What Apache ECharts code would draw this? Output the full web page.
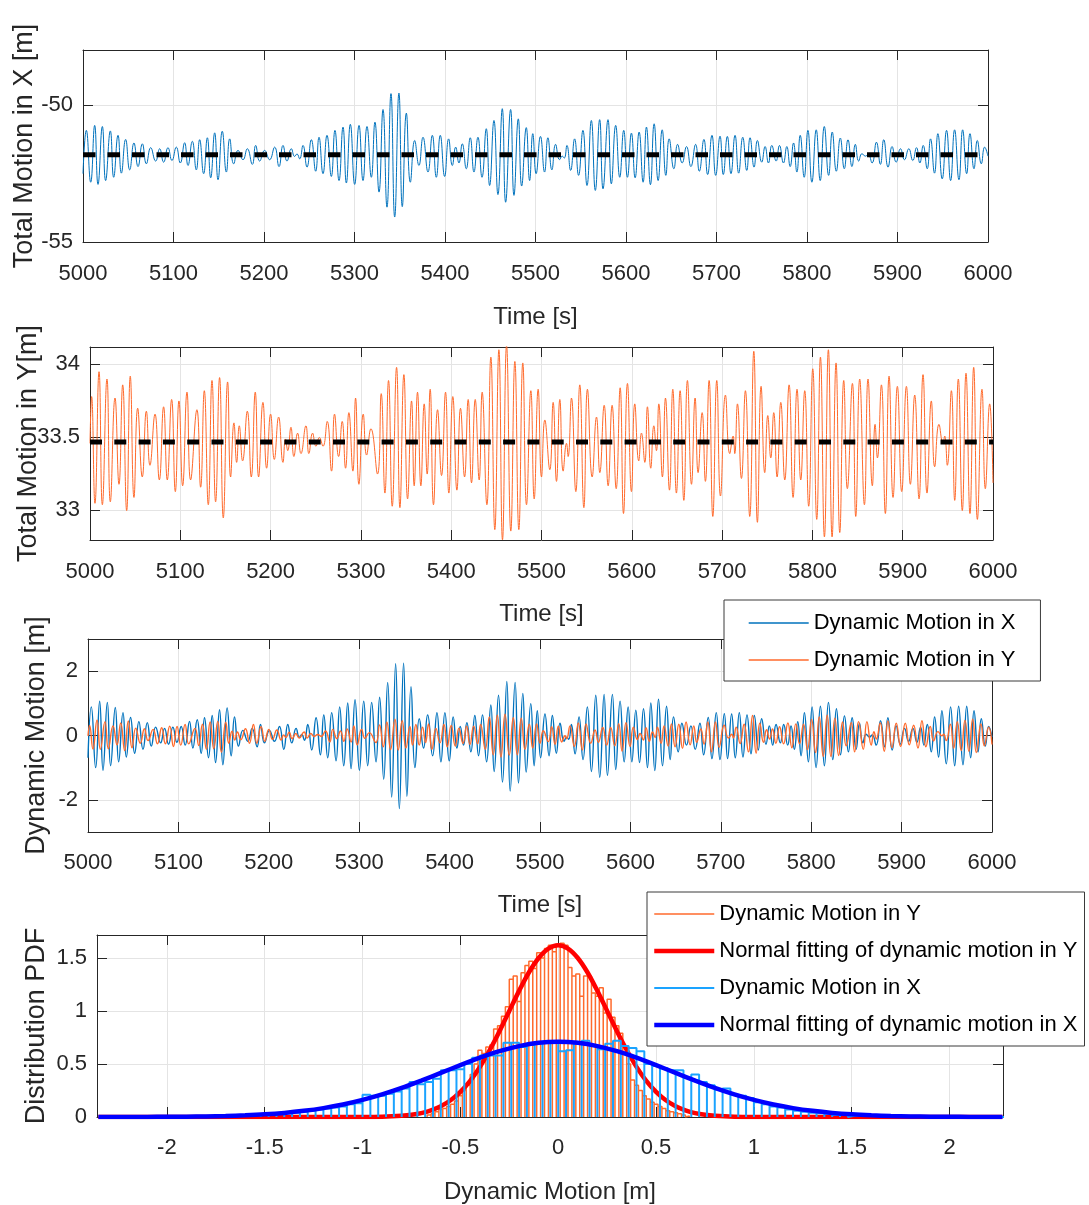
<!DOCTYPE html>
<html><head><meta charset="utf-8">
<script src="https://cdn.jsdelivr.net/npm/echarts@6/dist/echarts.min.js"></script>
<style>html,body{margin:0;padding:0;background:#fff}#c{width:1089px;height:1205px}</style>
</head><body><div id="c"></div>
<script>
// ---------------- DATA ----------------
const xMean = -51.82;   // mean of total motion in X [m]
const yMean = 33.466;   // mean of total motion in Y [m]

// dynamic motion in X: [time s, value m] (extrema)
const xMotion = [[5000.0,-0.69],[5003.7,0.89],[5008.5,-1.00],[5012.9,1.07],[5016.6,-1.08],[5021.4,1.03],[5025.0,-0.94],[5030.2,0.87],[5033.9,-0.82],[5038.7,0.71],[5042.4,-0.67],[5047.1,0.56],[5051.6,-0.55],[5056.3,0.43],[5060.8,-0.43],[5065.6,0.40],[5070.0,-0.33],[5074.8,0.26],[5080.3,-0.23],[5084.7,0.22],[5089.1,-0.27],[5093.9,0.26],[5098.3,-0.21],[5103.1,0.28],[5107.5,-0.30],[5112.3,0.44],[5116.0,-0.39],[5120.8,0.49],[5125.2,-0.55],[5128.9,0.55],[5133.3,-0.69],[5137.4,0.62],[5141.1,-0.84],[5145.5,0.80],[5149.2,-0.91],[5153.9,0.86],[5158.4,-0.63],[5162.1,0.58],[5166.5,-0.33],[5171.3,0.16],[5176.8,-0.18],[5181.6,0.22],[5187.1,-0.35],[5190.8,0.34],[5195.2,-0.23],[5200.7,0.16],[5206.2,-0.18],[5211.8,0.28],[5216.6,-0.43],[5221.0,0.34],[5225.4,-0.23],[5230.2,0.22],[5233.8,-0.06],[5236.5,0.03],[5239.4,-0.15],[5243.1,0.34],[5247.5,-0.45],[5252.3,0.55],[5257.1,-0.60],[5260.8,0.64],[5265.2,-0.69],[5269.6,0.71],[5274.4,-0.79],[5278.4,0.89],[5282.9,-0.94],[5287.3,1.01],[5291.0,-1.03],[5295.4,1.11],[5300.2,-1.08],[5305.0,1.07],[5309.4,-0.94],[5313.8,1.03],[5318.6,-0.82],[5322.6,1.19],[5327.1,-1.36],[5331.5,1.65],[5335.9,-1.91],[5340.3,2.23],[5344.4,-2.27],[5349.1,2.25],[5352.8,-1.89],[5357.3,1.52],[5361.7,-1.00],[5366.5,0.52],[5371.2,-0.39],[5375.7,0.64],[5381.2,-0.63],[5386.0,0.71],[5390.4,-0.82],[5394.8,0.71],[5399.6,-0.79],[5404.0,0.58],[5408.1,-0.39],[5411.8,0.28],[5415.4,-0.30],[5419.1,0.40],[5423.5,-0.51],[5427.9,0.62],[5432.0,-0.63],[5436.4,0.64],[5440.9,-0.82],[5445.6,0.95],[5449.3,-1.12],[5454.1,1.25],[5458.5,-1.45],[5463.3,1.68],[5467.0,-1.73],[5472.5,1.65],[5476.2,-1.48],[5481.0,1.31],[5484.7,-1.14],[5489.8,0.99],[5493.5,-0.94],[5497.0,0.77],[5500.7,-0.69],[5505.5,0.67],[5510.0,-0.63],[5513.7,0.62],[5518.1,-0.55],[5522.2,0.38],[5526.6,-0.18],[5529.5,-0.05],[5531.8,-0.12],[5534.7,0.34],[5538.8,-0.57],[5543.2,0.58],[5547.6,-0.75],[5552.4,0.89],[5556.9,-1.12],[5561.7,1.25],[5566.1,-1.30],[5570.9,1.28],[5574.6,-1.24],[5580.1,1.28],[5583.8,-1.06],[5588.6,1.07],[5593.1,-0.82],[5597.5,0.89],[5601.6,-0.82],[5606.0,0.79],[5610.1,-0.84],[5614.5,0.83],[5618.9,-1.00],[5622.6,1.01],[5627.0,-1.09],[5631.1,1.13],[5635.5,-0.94],[5640.0,0.91],[5644.0,-0.75],[5647.7,0.58],[5652.9,-0.51],[5657.0,0.38],[5662.1,-0.30],[5666.9,0.30],[5671.7,-0.43],[5676.9,0.38],[5681.0,-0.60],[5686.1,0.56],[5690.2,-0.72],[5695.0,0.71],[5699.1,-0.75],[5703.9,0.68],[5707.5,-0.72],[5712.0,0.67],[5716.0,-0.69],[5720.5,0.71],[5724.5,-0.67],[5729.0,0.64],[5733.4,-0.57],[5737.1,0.62],[5741.5,-0.45],[5745.2,0.52],[5750.0,-0.27],[5753.7,0.30],[5757.4,-0.30],[5761.1,0.34],[5765.9,-0.23],[5769.6,0.34],[5774.0,-0.30],[5777.7,0.30],[5781.4,-0.43],[5785.1,0.43],[5788.8,-0.63],[5792.5,0.71],[5796.9,-0.82],[5801.0,0.89],[5805.4,-1.00],[5810.2,0.91],[5814.6,-0.94],[5819.1,1.03],[5823.9,-0.75],[5827.9,0.83],[5832.4,-0.60],[5836.8,0.61],[5841.2,-0.51],[5845.3,0.55],[5849.7,-0.43],[5853.4,0.38],[5857.1,-0.23],[5860.8,0.04],[5864.5,-0.05],[5867.5,0.02],[5871.9,-0.30],[5876.7,0.46],[5881.1,-0.35],[5884.8,0.55],[5889.6,-0.45],[5894.0,0.30],[5898.5,-0.27],[5903.3,0.22],[5907.7,-0.18],[5912.5,0.22],[5916.9,-0.21],[5921.0,0.26],[5924.7,-0.30],[5928.4,0.34],[5932.8,-0.51],[5936.5,0.58],[5940.9,-0.67],[5944.6,0.77],[5949.4,-0.88],[5954.2,0.89],[5958.7,-0.94],[5963.1,0.91],[5967.9,-0.91],[5972.0,0.91],[5976.4,-0.69],[5980.1,0.77],[5984.5,-0.51],[5988.2,0.52],[5992.6,-0.33],[5996.3,0.28],[6000.0,-0.05]];

// dynamic motion in Y: [time s, value m]
const yMotion = [[5000.0,-0.01],[5001.8,0.31],[5005.5,-0.42],[5010.0,0.48],[5013.7,-0.43],[5018.8,0.43],[5022.5,-0.41],[5027.7,0.30],[5032.1,-0.29],[5036.2,0.39],[5040.6,-0.47],[5044.6,0.45],[5048.7,-0.38],[5052.8,0.23],[5057.9,-0.24],[5062.4,0.21],[5066.4,-0.16],[5072.0,0.19],[5076.8,-0.26],[5081.5,0.24],[5085.6,-0.26],[5090.4,0.29],[5094.5,-0.34],[5098.5,0.28],[5102.6,-0.30],[5107.4,0.34],[5111.4,-0.26],[5118.4,0.22],[5122.5,-0.31],[5126.6,0.35],[5131.0,-0.43],[5135.1,0.42],[5139.1,-0.41],[5143.5,0.44],[5147.6,-0.52],[5152.4,0.41],[5155.7,-0.24],[5159.4,0.13],[5162.4,-0.14],[5165.3,0.11],[5169.0,-0.13],[5174.2,0.21],[5178.6,-0.24],[5183.0,0.34],[5186.7,-0.24],[5191.5,0.27],[5195.6,-0.18],[5200.0,0.19],[5204.1,-0.12],[5208.9,0.17],[5213.7,-0.14],[5216.5,0.02],[5219.0,-0.06],[5222.5,0.10],[5225.8,-0.10],[5229.9,0.06],[5233.6,-0.08],[5239.1,0.11],[5242.4,-0.08],[5246.5,0.06],[5250.2,-0.03],[5254.0,0.03],[5258.0,-0.03],[5262.7,0.14],[5267.5,-0.20],[5270.8,0.19],[5275.3,-0.10],[5279.3,0.14],[5283.0,-0.18],[5286.7,0.20],[5291.1,-0.20],[5294.1,0.30],[5297.8,-0.29],[5302.6,0.19],[5306.3,-0.09],[5311.1,0.09],[5318.4,-0.22],[5322.5,0.33],[5326.6,-0.35],[5330.6,0.42],[5334.7,-0.44],[5339.5,0.51],[5343.2,-0.45],[5347.6,0.46],[5351.7,-0.39],[5356.1,0.28],[5359.0,-0.30],[5362.7,0.34],[5366.4,-0.30],[5370.1,0.26],[5373.4,-0.22],[5376.7,0.36],[5380.4,-0.43],[5384.9,0.22],[5389.3,-0.23],[5393.7,0.34],[5397.4,-0.35],[5401.8,0.31],[5406.3,-0.33],[5410.3,0.23],[5414.8,-0.24],[5418.8,0.29],[5422.5,-0.28],[5426.6,0.29],[5431.0,-0.26],[5434.3,0.34],[5439.5,-0.43],[5443.9,0.58],[5448.3,-0.60],[5452.8,0.63],[5456.8,-0.67],[5461.3,0.66],[5466.0,-0.61],[5470.5,0.55],[5474.9,-0.60],[5479.3,0.54],[5483.4,-0.43],[5488.2,0.35],[5491.9,-0.39],[5496.3,0.36],[5500.0,-0.24],[5503.7,0.15],[5509.2,-0.19],[5512.9,0.27],[5516.6,-0.27],[5520.3,0.29],[5524.0,-0.20],[5527.7,-0.01],[5529.5,-0.10],[5533.2,0.30],[5538.0,-0.34],[5542.4,0.39],[5546.9,-0.45],[5550.9,0.36],[5556.1,-0.24],[5560.9,0.17],[5564.6,-0.21],[5569.4,0.25],[5573.8,-0.30],[5578.2,0.25],[5582.7,-0.32],[5587.1,0.37],[5590.8,-0.49],[5595.2,0.40],[5599.6,-0.34],[5603.3,0.26],[5607.7,-0.13],[5610.7,0.06],[5614.4,-0.14],[5617.3,0.24],[5621.0,-0.18],[5624.4,0.11],[5627.3,-0.06],[5629.9,0.26],[5633.9,-0.24],[5637.3,0.30],[5641.7,-0.33],[5645.4,0.36],[5649.4,-0.35],[5653.5,0.35],[5657.6,-0.40],[5661.6,0.42],[5666.1,-0.29],[5670.1,0.30],[5673.4,-0.21],[5677.9,0.20],[5681.5,-0.27],[5685.6,0.42],[5689.7,-0.51],[5694.1,0.42],[5698.2,-0.37],[5703.7,0.32],[5708.5,-0.08],[5712.2,0.04],[5714.0,-0.08],[5717.0,0.26],[5721.4,-0.25],[5725.8,0.35],[5730.6,-0.51],[5735.1,0.62],[5739.1,-0.55],[5743.2,0.38],[5747.2,-0.21],[5750.6,0.18],[5753.9,-0.11],[5757.2,0.20],[5760.9,-0.24],[5765.0,0.27],[5769.4,-0.26],[5774.2,0.39],[5778.6,-0.38],[5783.0,0.36],[5787.1,-0.26],[5791.5,0.35],[5795.9,-0.44],[5800.4,0.50],[5804.8,-0.53],[5808.9,0.58],[5813.3,-0.65],[5817.7,0.63],[5821.8,-0.65],[5826.2,0.54],[5830.3,-0.62],[5834.7,0.42],[5838.7,-0.32],[5844.3,0.40],[5848.0,-0.51],[5852.4,0.43],[5857.6,-0.43],[5861.6,0.43],[5866.4,-0.30],[5869.4,0.12],[5872.0,-0.11],[5876.4,0.39],[5880.8,-0.49],[5884.9,0.45],[5889.3,-0.38],[5894.1,0.38],[5898.9,-0.34],[5904.1,0.38],[5908.5,-0.29],[5913.3,0.32],[5918.1,-0.39],[5922.5,0.46],[5926.9,-0.35],[5931.7,0.28],[5935.4,-0.17],[5940.2,0.12],[5944.6,-0.01],[5946.5,0.04],[5949.4,-0.16],[5953.9,0.35],[5957.6,-0.40],[5961.6,0.43],[5966.0,-0.47],[5970.1,0.47],[5974.5,-0.49],[5978.6,0.51],[5982.7,-0.53],[5987.8,0.36],[5991.5,-0.32],[5996.3,0.26],[6000.0,-0.28]];

// tick labels
const timeTicks = [5000,5100,5200,5300,5400,5500,5600,5700,5800,5900,6000];
const totalXTicks = [-55,-50];
const totalYTicks = [33,33.5,34];
const dynTicks = [-2,0,2];
const pdfXTicks = [-2,-1.5,-1,-0.5,0,0.5,1,1.5,2];
const pdfYTicks = [0,0.5,1,1.5];

// histogram of dynamic motion in Y (pdf), bins of 0.02 m from -0.67
const histYStart = -0.67, histYWidth = 0.02;
const histY = [0.02,0.03,0.05,0.07,0.08,0.10,0.12,0.15,0.20,0.25,0.30,0.40,0.50,0.63,0.60,0.66,0.68,0.83,0.86,0.95,1.04,1.30,1.33,1.09,1.36,1.43,1.47,1.40,1.55,1.50,1.59,1.62,1.56,1.63,1.64,1.62,1.41,1.33,1.35,1.14,1.33,1.33,1.17,1.14,1.22,0.98,1.11,0.94,0.86,0.79,0.60,0.50,0.35,0.30,0.25,0.20,0.17,0.14,0.12,0.10,0.08,0.06,0.05,0.04,0.03,0.02,0.01];

// histogram of dynamic motion in X (pdf), bins of 0.04 m from -2.28
const histXStart = -2.28, histXWidth = 0.04;
const histX = [0,0,0,0,0.005,0,0,0,0.005,0.01,0.01,0.005,0.005,0.01,0.01,0.01,0.015,0.02,0.02,0.02,0.025,0.03,0.035,0.04,0.05,0.06,0.07,0.08,0.09,0.10,0.12,0.13,0.21,0.20,0.20,0.22,0.24,0.27,0.33,0.31,0.33,0.36,0.44,0.44,0.45,0.50,0.56,0.58,0.58,0.58,0.70,0.70,0.66,0.68,0.70,0.71,0.70,0.62,0.63,0.70,0.72,0.68,0.64,0.69,0.72,0.67,0.65,0.62,0.50,0.48,0.46,0.44,0.44,0.37,0.40,0.33,0.30,0.26,0.27,0.21,0.20,0.18,0.14,0.12,0.10,0.09,0.07,0.06,0.05,0.04,0.035,0.03,0.02,0.02,0.015,0.01,0.01,0.015,0.02,0.005,0.005,0,0,0,0,0,0,0,0,0,0,0,0,0];

// normal fits [x, pdf]
const fitX = [[-2.35,0.0002],[-2.3,0.0003],[-2.2,0.0005],[-2.1,0.001],[-2.0,0.0019],[-1.9,0.0033],[-1.8,0.0058],[-1.7,0.0097],[-1.6,0.0159],[-1.5,0.025],[-1.4,0.0386],[-1.3,0.058],[-1.2,0.084],[-1.1,0.118],[-1.0,0.161],[-0.9,0.213],[-0.8,0.274],[-0.7,0.343],[-0.6,0.416],[-0.5,0.49],[-0.4,0.56],[-0.3,0.621],[-0.2,0.669],[-0.1,0.7],[0,0.71],[0.1,0.7],[0.2,0.669],[0.3,0.621],[0.4,0.56],[0.5,0.49],[0.6,0.416],[0.7,0.343],[0.8,0.274],[0.9,0.213],[1.0,0.161],[1.1,0.118],[1.2,0.084],[1.3,0.058],[1.4,0.0386],[1.5,0.025],[1.6,0.0159],[1.7,0.0097],[1.8,0.0058],[1.9,0.0033],[2.0,0.0019],[2.1,0.001],[2.2,0.0005],[2.27,0.0003]];
const fitY = [[-2.35,0],[-1.2,0],[-1.0,0.0007],[-0.9,0.0032],[-0.8,0.012],[-0.75,0.021],[-0.7,0.037],[-0.65,0.063],[-0.6,0.102],[-0.55,0.158],[-0.5,0.237],[-0.45,0.341],[-0.4,0.473],[-0.35,0.632],[-0.3,0.81],[-0.25,1.001],[-0.2,1.19],[-0.15,1.363],[-0.1,1.5],[-0.05,1.589],[0,1.62],[0.05,1.589],[0.1,1.5],[0.15,1.363],[0.2,1.19],[0.25,1.001],[0.3,0.81],[0.35,0.632],[0.4,0.473],[0.45,0.341],[0.5,0.237],[0.55,0.158],[0.6,0.102],[0.65,0.063],[0.7,0.037],[0.75,0.021],[0.8,0.012],[0.9,0.0032],[1.0,0.0007],[1.2,0],[2.27,0]];

const legendText = {
  dynX: 'Dynamic Motion in X', dynY: 'Dynamic Motion in Y',
  histY: 'Dynamic Motion in Y', fitY: 'Normal fitting of dynamic motion in Y',
  histX: 'Dynamic Motion in X', fitX: 'Normal fitting of dynamic motion in X'
};

// ---------------- STYLE / BUILD ----------------
const FONT = 'Liberation Sans, Arial, Helvetica, sans-serif';
const AX = '#262626', GRIDC = '#e4e4e4';
const BLUE = '#0072BD', ORANGE = '#FF6A2C', LBLUE = '#1AA3FF';

function outline(start, width, h) {
  const pts = [];
  h.forEach((v, i) => {
    const a = +(start + i * width).toFixed(4), b = +(start + (i + 1) * width).toFixed(4);
    pts.push([a, 0], [a, v], [b, v], [b, 0]);
  });
  return pts;
}
const fmt = v => String(+v.toFixed(2));

function xPair(gi, min, max, ticks, name, nameGap, margin) {
  return [{
    type: 'value', gridIndex: gi, min, max, position: 'bottom',
    axisLine: { show: true, onZero: false, lineStyle: { color: AX, width: 1 } },
    axisTick: { show: true, inside: true, length: 10, customValues: ticks, lineStyle: { color: AX } },
    axisLabel: { customValues: ticks, margin, fontSize: 22, color: AX, fontFamily: FONT, formatter: fmt },
    splitLine: { show: true, lineStyle: { color: GRIDC, width: 1 } },
    name, nameLocation: 'middle', nameGap, nameMoveOverlap: false,
    nameTextStyle: { fontSize: 24, color: AX, fontFamily: FONT }
  }, {
    type: 'value', gridIndex: gi, min, max, position: 'top',
    axisLine: { show: true, onZero: false, lineStyle: { color: AX, width: 1 } },
    axisTick: { show: true, inside: true, length: 10, customValues: ticks, lineStyle: { color: AX } },
    axisLabel: { show: false }, splitLine: { show: false }
  }];
}
function yPair(gi, min, max, ticks, name, nameGap) {
  return [{
    type: 'value', gridIndex: gi, min, max, position: 'left',
    axisLine: { show: true, onZero: false, lineStyle: { color: AX, width: 1 } },
    axisTick: { show: true, inside: true, length: 10, customValues: ticks, lineStyle: { color: AX } },
    axisLabel: { customValues: ticks, margin: 10, fontSize: 22, color: AX, fontFamily: FONT, formatter: fmt },
    splitLine: { show: true, lineStyle: { color: GRIDC, width: 1 } },
    name, nameLocation: 'middle', nameGap, nameMoveOverlap: false,
    nameTextStyle: { fontSize: 27, color: AX, fontFamily: FONT }
  }, {
    type: 'value', gridIndex: gi, min, max, position: 'right',
    axisLine: { show: true, onZero: false, lineStyle: { color: AX, width: 1 } },
    axisTick: { show: true, inside: true, length: 10, customValues: ticks, lineStyle: { color: AX } },
    axisLabel: { show: false }, splitLine: { show: false }
  }];
}

const gridBase = { containLabel: false, outerBoundsMode: 'none' };
const grids = [
  { ...gridBase, left: 83, top: 50, width: 905, height: 192 },
  { ...gridBase, left: 90, top: 347, width: 903, height: 193 },
  { ...gridBase, left: 88, top: 639, width: 904, height: 193 },
  { ...gridBase, left: 97, top: 935, width: 906, height: 182 }
];

const xAxis = [
  ...xPair(0, 5000, 6000, timeTicks, 'Time [s]', 63, 21),
  ...xPair(1, 5000, 6000, timeTicks, 'Time [s]', 62, 21),
  ...xPair(2, 5000, 6000, timeTicks, 'Time [s]', 61, 20),
  ...xPair(3, -2.357, 2.273, pdfXTicks, 'Dynamic Motion [m]', 63, 20)
];
const yAxis = [
  ...yPair(0, -55, -48, totalXTicks, 'Total Motion in X [m]', 45),
  ...yPair(1, 32.795, 34.115, totalYTicks, 'Total Motion in Y[m]', 48),
  ...yPair(2, -3, 3, dynTicks, 'Dynamic Motion [m]', 38),
  ...yPair(3, 0, 1.717, pdfYTicks, 'Distribution PDF', 47)
];

const lineBase = { type: 'line', symbol: 'none', showSymbol: false, animation: false, silent: true };
function ln(name, xi, data, color, width, extra) {
  return Object.assign({ ...lineBase, name, xAxisIndex: xi, yAxisIndex: xi, data,
    lineStyle: { color, width }, itemStyle: { color } }, extra || {});
}
const series = [
  ln('totX', 0, xMotion.map(([t, v]) => [t, +(v + xMean).toFixed(3)]), BLUE, 1, { smooth: 0.5 }),
  ln('meanX', 0, [[5000, xMean], [6000, xMean]], '#000', 5, { lineStyle: { color: '#000', width: 5, type: [12.5, 12] }, z: 3 }),
  ln('totY', 2, yMotion.map(([t, v]) => [t, +(v + yMean).toFixed(3)]), ORANGE, 1, { smooth: 0.5 }),
  ln('meanY', 2, [[5000, yMean], [6000, yMean]], '#000', 5, { lineStyle: { color: '#000', width: 5, type: [12, 12.3] }, z: 3 }),
  ln('dynX', 4, xMotion, BLUE, 1.4, { smooth: 0.5 }),
  ln('dynY', 4, yMotion, ORANGE, 1.4, { smooth: 0.5 }),
  ln('histY', 6, outline(histYStart, histYWidth, histY), ORANGE, 1.5),
  ln('fitY', 6, fitY, '#FF0000', 4.5, { smooth: 0.3 }),
  ln('histX', 6, outline(histXStart, histXWidth, histX), LBLUE, 2),
  ln('fitX', 6, fitX, '#0000FF', 4.5, { smooth: 0.3 })
];

const legendBase = {
  orient: 'vertical', itemWidth: 60, itemHeight: 14, itemGap: 15,
  backgroundColor: '#fff', borderColor: '#3a3a3a', borderWidth: 1, borderRadius: 0,
  selectedMode: false, formatter: n => legendText[n],
  itemStyle: { opacity: 0 },
  lineStyle: { width: 'inherit' },
  textStyle: { fontSize: 22, color: '#000', fontFamily: FONT }
};
const legend = [
  { ...legendBase, left: 724, top: 600, padding: [12, 25, 10, 24], data: ['dynX', 'dynY'] },
  { ...legendBase, left: 647, top: 892, padding: [11, 7, 10, 5], data: ['histY', 'fitY', 'histX', 'fitX'] }
];

const chart = echarts.init(document.getElementById('c'), null, { renderer: 'canvas' });
chart.setOption({
  animation: false, backgroundColor: '#fff',
  textStyle: { fontFamily: FONT },
  grid: grids, xAxis, yAxis, series, legend
});
</script></body></html>
